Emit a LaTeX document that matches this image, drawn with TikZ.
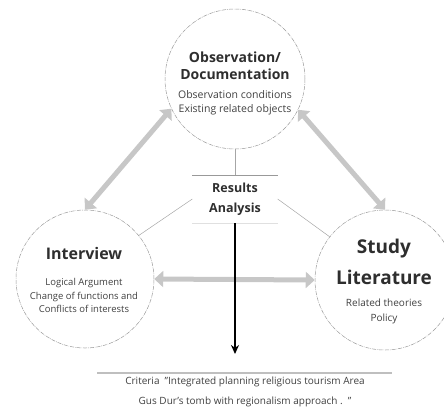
\documentclass[tikz,border=0pt]{standalone}
\usepackage{fontspec}
\setmainfont{Open Sans}
\usetikzlibrary{arrows.meta}
\usetikzlibrary{positioning}

\begin{document}
\begin{tikzpicture}[x=1pt,y=-1pt]
\tikzset{font=\fontsize{9.5}{13.5}\selectfont}
\tikzset{ring/.style={circle, draw=black!40, line width=0.5pt, dash pattern=on 4pt off 1pt on 0.6pt off 1pt, inner sep=0pt, minimum size=#1}}
\tikzset{sub/.style={align=center, text=black!75, inner sep=0pt}}
\tikzset{duo/.style={draw=black!22, line width=5pt, {Triangle[width=16pt,length=9pt]}-{Triangle[width=16pt,length=9pt]}}}
\tikzset{thin/.style={draw=black!35, line width=0.5pt}}
\useasboundingbox (0,0) rectangle (444,407);
\node[ring=140pt] (obs) at (235,79) {};
\node[ring=138pt] (intv) at (85,279) {};
\node[ring=140pt] (study) at (385,280) {};
\node[align=center, text=black!82, inner sep=0pt, font=\fontsize{14}{17}\selectfont\bfseries] (obs-head) at (235,66) {Observation/\\Documentation};
\node[sub, font=\fontsize{10.5}{14}\selectfont] (obs-sub) [below=10pt of obs-head] {Observation conditions\\Existing related objects};
\node[text=black!82, inner sep=0pt, font=\fontsize{16}{19}\selectfont\bfseries] (intv-head) at (84,253) {Interview};
\node[sub] (intv-sub) [below=19pt of intv-head] {Logical Argument\\Change of functions and\\Conflicts of interests};
\node[align=center, text=black!82, inner sep=0pt, font=\fontsize{19}{31}\selectfont\bfseries] (study-head) at (384,262) {Study\\Literature};
\node[sub, font=\fontsize{10}{15}\selectfont] (study-sub) [below=14pt of study-head] {Related theories\\Policy};
\node[fill=white, minimum width=85pt, minimum height=48pt, align=center, text=black!82, font=\fontsize{12.5}{20}\selectfont\bfseries] (res) at (235,199) {Results\\Analysis};
\draw[draw=black!40, line width=0.6pt] (res.north west) -- (res.north east);
\draw[draw=black!12, line width=0.6pt] (res.south west) -- (res.south east);
\node[anchor=north, minimum width=295pt, inner sep=0pt, text=black!75, align=center, font=\fontsize{10}{19.5}\selectfont] (crit) at (245,377) {Criteria\enspace"Integrated planning religious tourism Area\\Gus Dur's tomb with regionalism approach .\enspace"};
\draw[draw=black!25, line width=1.5pt] (97,373) -- (392,373);
\coordinate (tip) at (235,354);
\draw[thin] (obs.south) -- (res.north);
\draw[thin] (res.west) -- (intv.39);
\draw[thin] (res.east) -- (study.142);
\draw[duo] (intv.north) -- (obs.205);
\draw[duo] (study.north) -- (obs.334);
\draw[duo] (intv.east) -- (study.west);
\draw[line width=2.5pt, -{Stealth[width=8pt,length=9pt]}] (res.south) -- (tip);
\end{tikzpicture}
\end{document}
